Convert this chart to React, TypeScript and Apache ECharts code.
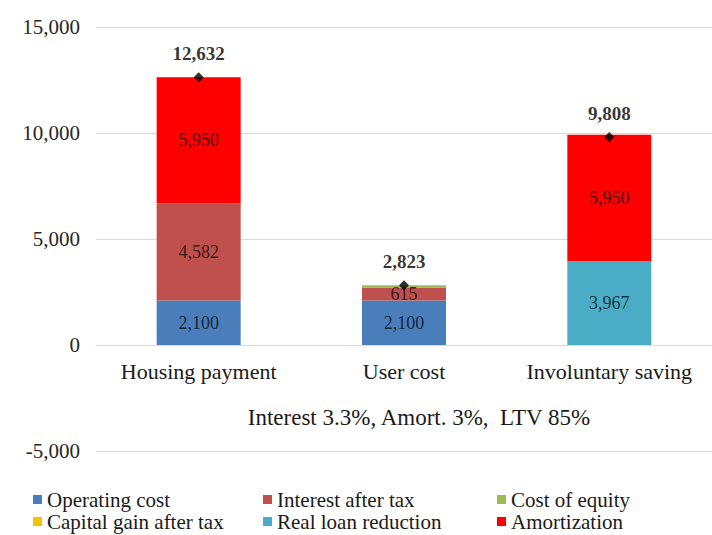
import React, { useEffect, useRef } from "react";
import * as echarts from "echarts";

const categories = ["Housing payment", "User cost", "Involuntary saving"];
const operatingCost = [2100, 2100, 0];
const interestAfterTax = [4582, 615, 0];
const costOfEquity = [0, 108, 0];
const capitalGainAfterTax = [0, 0, 0];
const realLoanReduction = [0, 0, 3967];
const amortization = [5950, 0, 5950];
const totals = [12632, 2823, 9808];
const yTicks = [-5000, 0, 5000, 10000, 15000];
const axisTitle = "Interest 3.3%, Amort. 3%,  LTV 85%";
const legendNames = [
  "Operating cost",
  "Interest after tax",
  "Cost of equity",
  "Capital gain after tax",
  "Real loan reduction",
  "Amortization",
];

const FONT = "'Liberation Serif', 'Times New Roman', serif";
const fmt = (v: number) => Number(v).toLocaleString("en-US");

export default function App() {
  const ref = useRef<HTMLDivElement>(null);
  useEffect(() => {
    if (!ref.current) return;
    const chart = echarts.init(ref.current, undefined, { renderer: "svg" });
    const barLabel = {
      show: true,
      position: "inside" as const,
      fontFamily: FONT,
      fontSize: 18,
      color: "rgba(0,0,0,0.72)",
      formatter: (p: any) => (Math.abs(p.value) >= 300 ? fmt(p.value) : ""),
    };
    const mk = (name: string, data: number[], color: string) => ({
      name,
      type: "bar" as const,
      stack: "total",
      data,
      barWidth: 84,
      itemStyle: { color },
      label: barLabel,
    });
    const colLeft = [33, 263, 497];
    const rowTop = [489, 511];
    const legends = legendNames.map((n, i) => ({
      data: [n],
      left: colLeft[i % 3],
      top: rowTop[Math.floor(i / 3)],
      padding: 0,
      icon: "rect",
      itemWidth: 9,
      itemHeight: 9,
      textStyle: { fontFamily: FONT, fontSize: 21, color: "#1a1a1a" },
    }));
    chart.setOption({
      animation: false,
      backgroundColor: "#ffffff",
      textStyle: { fontFamily: FONT },
      grid: { left: 96, top: 27, width: 624, height: 424, containLabel: false },
      xAxis: {
        type: "category",
        data: categories,
        offset: -106,
        axisLine: { show: true, onZero: false, lineStyle: { color: "#d9d9d9", width: 1 } },
        axisTick: { show: false },
        axisLabel: { fontFamily: FONT, fontSize: 22, color: "#1a1a1a", margin: 15, interval: 0 },
      },
      yAxis: {
        type: "value",
        min: yTicks[0],
        max: yTicks[yTicks.length - 1],
        interval: 5000,
        axisLine: { show: false },
        axisTick: { show: false },
        splitLine: { show: true, lineStyle: { color: "#d9d9d9", width: 1 } },
        axisLabel: { fontFamily: FONT, fontSize: 21, color: "#262626", margin: 16, formatter: (v: number) => fmt(v) },
      },
      legend: legends,
      graphic: [
        {
          type: "text",
          x: 419,
          y: 417,
          style: {
            text: axisTitle,
            fontFamily: FONT,
            fontSize: 23,
            fill: "#1a1a1a",
            textAlign: "center",
            textVerticalAlign: "middle",
          },
        },
      ],
      series: [
        mk("Operating cost", operatingCost, "#4a7ebb"),
        mk("Interest after tax", interestAfterTax, "#c0504d"),
        mk("Cost of equity", costOfEquity, "#9bbb59"),
        mk("Capital gain after tax", capitalGainAfterTax, "#f7c200"),
        mk("Real loan reduction", realLoanReduction, "#4bacc6"),
        mk("Amortization", amortization, "#ff0000"),
        {
          name: "Total",
          type: "scatter",
          data: totals,
          symbol: "diamond",
          symbolSize: 10,
          itemStyle: { color: "#000000" },
          z: 10,
          label: {
            show: true,
            position: "top",
            distance: 9,
            fontFamily: FONT,
            fontSize: 19,
            fontWeight: "bold",
            color: "#000000",
            formatter: (p: any) => fmt(p.value),
          },
        },
      ],
    });
    return () => chart.dispose();
  }, []);
  return (
    <div
      ref={ref}
      style={{ position: "fixed", left: 0, top: 0, width: 712, height: 535, background: "#fff" }}
    />
  );
}
